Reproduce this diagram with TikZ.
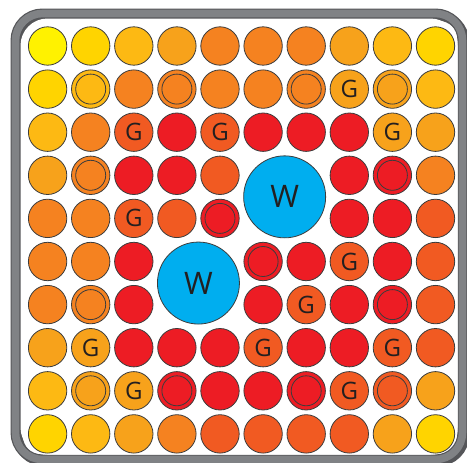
\documentclass[tikz,border=0pt]{standalone}
\usepackage{fontspec}
\setmainfont{Open Sans}
\definecolor{yel}{HTML}{FFF200}
\definecolor{gold}{HTML}{FFD400}
\definecolor{amber}{HTML}{FDB913}
\definecolor{lightorg}{HTML}{F7A21B}
\definecolor{org}{HTML}{F58220}
\definecolor{darkorg}{HTML}{F15A22}
\definecolor{hotred}{HTML}{ED1C24}
\definecolor{wellblue}{HTML}{00AEEF}
\definecolor{rim}{HTML}{3C3C3C}
\definecolor{ink}{HTML}{231F20}
\definecolor{framegray}{HTML}{808285}
\definecolor{framedark}{HTML}{555659}

\begin{document}
\begin{tikzpicture}[
  x=1pt, y=-1pt,
  well/.style={circle, draw=rim, line width=0.8pt, minimum size=38.4pt, inner sep=0pt, text=ink, font=\fontsize{24}{24}\selectfont},
  pl/.style={},
  rg/.style={path picture={\draw[rim, line width=0.8pt] (path picture bounding box.center) circle (15pt);}},
  gw/.style={execute at begin node=G},
  bigwell/.style={circle, draw=rim, line width=0.8pt, fill=wellblue, minimum size=82pt, inner sep=0pt, text=ink, font=\fontsize{31}{31}\selectfont},
  plate/.style={rounded corners=27pt}
]
\fill[white] (0,0) rectangle (467,463);
\useasboundingbox (0,0) rectangle (467,463);

% plate frame with shadow
\draw[plate, line width=10pt, framedark] (17.5,15.5) rectangle (464.5,461.5);
\draw[plate, line width=10pt, framedark] (15.5,13.5) rectangle (462.5,459.5);
\draw[plate, line width=7.6pt, framegray] (15.5,13.5) rectangle (462.5,459.5);
\fill[white, plate] (20.5,18.5) rectangle (457.5,454.5);

% wells: column/colour/mark
\foreach \r/\cells in {
  1/{1/yel/pl, 2/gold/pl, 3/amber/pl, 4/lightorg/pl, 5/org/pl, 6/org/pl, 7/org/pl, 8/lightorg/pl, 9/amber/pl, 10/gold/pl},
  2/{1/gold/pl, 2/amber/rg, 3/org/pl, 4/org/rg, 5/org/pl, 6/org/pl, 7/org/rg, 8/lightorg/gw, 9/lightorg/rg, 10/amber/pl},
  3/{1/amber/pl, 2/org/pl, 3/darkorg/gw, 4/hotred/pl, 5/darkorg/gw, 6/hotred/pl, 7/hotred/pl, 8/hotred/pl, 9/lightorg/gw, 10/lightorg/pl},
  4/{1/lightorg/pl, 2/org/rg, 3/hotred/pl, 4/hotred/pl, 5/darkorg/pl, 8/hotred/pl, 9/hotred/rg, 10/org/pl},
  5/{1/org/pl, 2/org/pl, 3/darkorg/gw, 4/darkorg/pl, 5/hotred/rg, 8/hotred/pl, 9/hotred/pl, 10/darkorg/pl},
  6/{1/org/pl, 2/org/pl, 3/hotred/pl, 6/hotred/rg, 7/hotred/pl, 8/darkorg/gw, 9/hotred/pl, 10/darkorg/pl},
  7/{1/org/pl, 2/org/rg, 3/hotred/pl, 6/hotred/pl, 7/darkorg/gw, 8/hotred/pl, 9/hotred/rg, 10/darkorg/pl},
  8/{1/lightorg/pl, 2/lightorg/gw, 3/hotred/pl, 4/hotred/pl, 5/hotred/pl, 6/darkorg/gw, 7/hotred/pl, 8/hotred/pl, 9/darkorg/gw, 10/darkorg/pl},
  9/{1/amber/pl, 2/lightorg/rg, 3/lightorg/gw, 4/hotred/rg, 5/hotred/pl, 6/hotred/pl, 7/hotred/rg, 8/darkorg/gw, 9/darkorg/rg, 10/lightorg/pl},
  10/{1/gold/pl, 2/amber/pl, 3/lightorg/pl, 4/org/pl, 5/darkorg/pl, 6/darkorg/pl, 7/darkorg/pl, 8/darkorg/pl, 9/lightorg/pl, 10/gold/pl}}
{
  \foreach \c/\f/\m in \cells
    \node[well, fill=\f, \m] (c\r-\c) at ({47.6+43.1*(\c-1)}, {46+43.1*(\r-1)}) {};
}

% the two big wells
\node[bigwell] (w1) at (284.65,196.85) {W};
\node[bigwell] (w2) at (198.45,283.05) {W};
\end{tikzpicture}
\end{document}
